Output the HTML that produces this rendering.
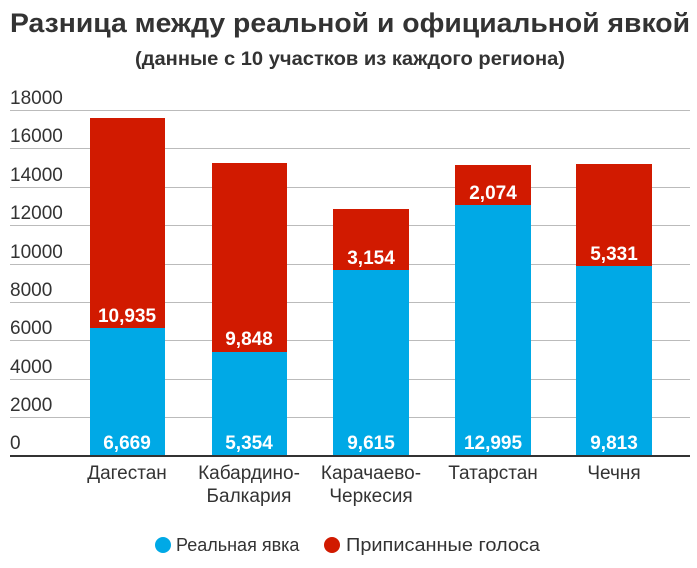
<!DOCTYPE html><html><head><meta charset="utf-8"><style>body{margin:0;background:#fff;font-family:"Liberation Sans",sans-serif}</style></head><body>
<svg width="697" height="563" xmlns="http://www.w3.org/2000/svg" font-family="Liberation Sans, sans-serif">
<text x="10" y="32" font-size="27" font-weight="bold" fill="#333" textLength="680" lengthAdjust="spacingAndGlyphs">Разница между реальной и официальной явкой</text>
<text x="135" y="65" font-size="19" fill="#333" font-weight="bold" textLength="430" lengthAdjust="spacingAndGlyphs">(данные с 10 участков из каждого региона)</text>
<g stroke="#bbb" stroke-width="1">
<line x1="10" x2="690" y1="110.5" y2="110.5"/><line x1="10" x2="690" y1="148.5" y2="148.5"/><line x1="10" x2="690" y1="187.5" y2="187.5"/><line x1="10" x2="690" y1="225.5" y2="225.5"/><line x1="10" x2="690" y1="264.5" y2="264.5"/><line x1="10" x2="690" y1="302.5" y2="302.5"/><line x1="10" x2="690" y1="340.5" y2="340.5"/><line x1="10" x2="690" y1="379.5" y2="379.5"/><line x1="10" x2="690" y1="417.5" y2="417.5"/>
</g>
<g font-size="19" fill="#333">
<text x="10" y="104">18000</text><text x="10" y="142">16000</text><text x="10" y="181">14000</text><text x="10" y="219">12000</text><text x="10" y="258">10000</text><text x="10" y="296">8000</text><text x="10" y="334">6000</text><text x="10" y="373">4000</text><text x="10" y="411">2000</text><text x="10" y="449">0</text>
</g>
<g>
<rect x="90" y="118" width="75" height="210" fill="#d11a00"/><rect x="90" y="328" width="75" height="128" fill="#00a9e6"/>
<rect x="212" y="163" width="75" height="189" fill="#d11a00"/><rect x="212" y="352" width="75" height="104" fill="#00a9e6"/>
<rect x="333" y="209" width="76" height="61" fill="#d11a00"/><rect x="333" y="270" width="76" height="186" fill="#00a9e6"/>
<rect x="455" y="165" width="76" height="40" fill="#d11a00"/><rect x="455" y="205" width="76" height="251" fill="#00a9e6"/>
<rect x="576" y="164" width="76" height="102" fill="#d11a00"/><rect x="576" y="266" width="76" height="190" fill="#00a9e6"/>
</g>
<line x1="10" x2="690" y1="456" y2="456" stroke="#333" stroke-width="2"/>
<g font-size="19" fill="#fff" text-anchor="middle" font-weight="bold">
<text x="127" y="322">10,935</text><text x="127" y="449">6,669</text>
<text x="249" y="345">9,848</text><text x="249" y="449">5,354</text>
<text x="371" y="264">3,154</text><text x="371" y="449">9,615</text>
<text x="493" y="199">2,074</text><text x="493" y="449">12,995</text>
<text x="614" y="260">5,331</text><text x="614" y="449">9,813</text>
</g>
<g font-size="19" fill="#333" text-anchor="middle">
<text x="127" y="479">Дагестан</text>
<text x="249" y="479">Кабардино-</text><text x="249" y="502">Балкария</text>
<text x="371" y="479">Карачаево-</text><text x="371" y="502">Черкесия</text>
<text x="493" y="479">Татарстан</text>
<text x="614" y="479">Чечня</text>
</g>
<circle cx="163" cy="545" r="8" fill="#00a9e6"/><text x="176" y="551" font-size="18" fill="#333">Реальная явка</text>
<circle cx="332" cy="545" r="8" fill="#d11a00"/><text x="346" y="551" font-size="18" fill="#333" textLength="194" lengthAdjust="spacingAndGlyphs">Приписанные голоса</text>
</svg></body></html>
